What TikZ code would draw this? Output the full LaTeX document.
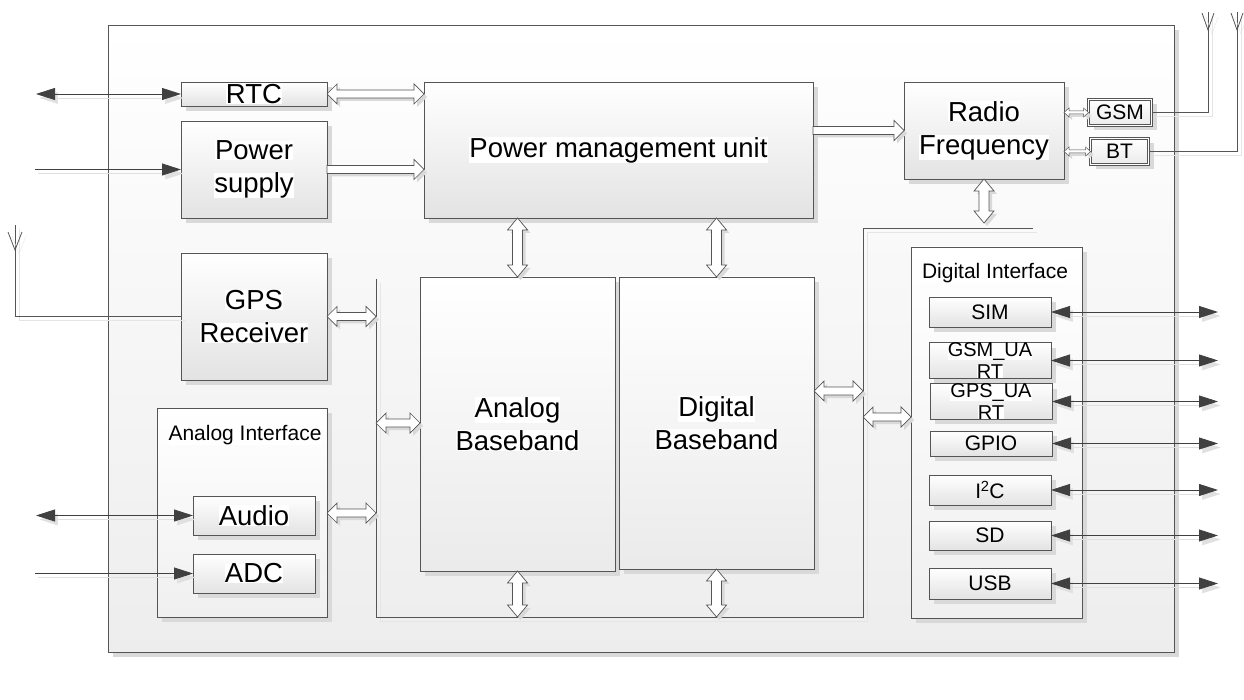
\documentclass[tikz,border=0pt]{standalone}
\usepackage{fontspec}
\setmainfont{Liberation Sans}
\usetikzlibrary{arrows.meta,shadows,calc}
\definecolor{bord}{RGB}{85,85,85}
\definecolor{tipc}{RGB}{64,64,64}
\newcommand\wb[1]{{\setlength{\fboxsep}{0pt}\colorbox{white}{#1}}}
\begin{document}
\begin{tikzpicture}[x=1pt,y=-1pt,
  >={Triangle[length=19pt,width=12pt]},
  every node/.style={inner sep=0pt,outer sep=0pt},
  big/.style={font=\fontsize{27.5}{33}\selectfont,align=center},
  small/.style={font=\fontsize{21}{23}\selectfont,align=center},
  uart/.style={font=\fontsize{20}{22}\selectfont,align=center},
  shad/.style={drop shadow={shadow xshift=5pt,shadow yshift=-5pt,fill=black!15,opacity=1}},
  box/.style={draw=bord,line width=0.8pt,top color=white,bottom color=black!11,shad},
  lbox/.style={draw=bord,line width=0.8pt,top color=white,bottom color=black!6,shad},
  dbox/.style={draw=bord,line width=0.6pt,double=white,double distance=1.8pt,top color=white,bottom color=black!8,shad},
  hol/.style={draw=bord,fill=white,line width=0.7pt,preaction={fill=black!15,transform canvas={shift={(3pt,-3pt)}}}},
  dblH/.style n args={3}{to path={let \p1=(\tikztostart), \p2=(\tikztotarget) in
    (\x1,\y1) -- (\x1+#1,\y1+#2) -- (\x1+#1,\y1+#3) -- (\x2-#1,\y1+#3) -- (\x2-#1,\y1+#2) -- (\x2,\y1)
    -- (\x2-#1,\y1-#2) -- (\x2-#1,\y1-#3) -- (\x1+#1,\y1-#3) -- (\x1+#1,\y1-#2) -- cycle}},
  sglH/.style n args={3}{to path={let \p1=(\tikztostart), \p2=(\tikztotarget) in
    (\x1,\y1+#3) -- (\x2-#1,\y1+#3) -- (\x2-#1,\y1+#2) -- (\x2,\y1)
    -- (\x2-#1,\y1-#2) -- (\x2-#1,\y1-#3) -- (\x1,\y1-#3) -- cycle}},
  dblV/.style n args={3}{to path={let \p1=(\tikztostart), \p2=(\tikztotarget) in
    (\x1,\y1) -- (\x1+#2,\y1+#1) -- (\x1+#3,\y1+#1) -- (\x1+#3,\y2-#1) -- (\x1+#2,\y2-#1) -- (\x1,\y2)
    -- (\x1-#2,\y2-#1) -- (\x1-#3,\y2-#1) -- (\x1-#3,\y1+#1) -- (\x1-#2,\y1+#1) -- cycle}},
  bigH/.style={dblH={10pt}{10pt}{4pt}},
  oneH/.style={sglH={10pt}{10pt}{4pt}},
  bigV/.style={dblV={12pt}{10pt}{5pt}},
  tinyH/.style={dblH={5pt}{4.5pt}{1.5pt}},
  ext/.style={draw=tipc,line width=0.8pt,preaction={draw=black!12,transform canvas={shift={(3pt,-4pt)}}}},
  wire/.style={draw=bord,line width=0.8pt,preaction={draw=black!10,transform canvas={shift={(4pt,-4pt)}}}}
]
\useasboundingbox (0,0) rectangle (1244,700);

% outer chip box
\node[box,bottom color=black!7,minimum width=1066pt,minimum height=627pt] (outer) at (641,338.5) {};

% bus
\coordinate (busTL) at (376,279);
\coordinate (busBL) at (376,617);
\coordinate (busBR) at (863,617);
\coordinate (busTR) at (863,228);
\coordinate (busTE) at (1033,228);
\draw[wire] (busTL) -- (busBL) -- (busBR) -- (busTR) -- (busTE);

% interface frames
\node[lbox,minimum width=170pt,minimum height=209pt] (ai) at (242,512.5) {};
\node[lbox,minimum width=171pt,minimum height=371pt] (di) at (996.5,432.5) {};
\node[small] (aiT) at (245,435) {\wb{Analog Interface}};
\node[small] (diT) at (995,273) {\wb{Digital Interface}};

% main blocks
\node[box,big,minimum width=146pt,minimum height=24pt] (rtc) at (254,94) {\wb{RTC}};
\node[box,big,minimum width=146pt,minimum height=97pt] (ps) at (254,169.5) {\wb{Power}\\\wb{supply}};
\node[box,big,minimum width=389pt,minimum height=136pt] (pmu) at (618.5,150) {\wb{Power management unit}};
\node[box,big,minimum width=160pt,minimum height=97pt] (rf) at (984,130.5) {\wb{Radio}\\\wb{Frequency}};
\node[dbox,small,minimum width=63pt,minimum height=26pt] (gsm) at (1120,112.5) {GSM};
\node[dbox,small,minimum width=58pt,minimum height=26pt] (bt) at (1119.5,151.5) {BT};
\node[box,big,minimum width=146pt,minimum height=127pt] (gps) at (254,316.5) {\wb{GPS}\\\wb{Receiver}};
\node[box,big,bottom color=black!8,minimum width=195pt,minimum height=294pt] (ab) at (517.5,424) {\wb{Analog}\\\wb{Baseband}};
\node[box,big,bottom color=black!8,minimum width=195pt,minimum height=292pt] (db) at (716.5,423) {\wb{Digital}\\\wb{Baseband}};
\node[box,big,minimum width=122pt,minimum height=39pt] (audio) at (254,515.5) {\wb{Audio}};
\node[box,big,minimum width=122pt,minimum height=39pt] (adc) at (254,573.5) {\wb{ADC}};

% digital interface items
\node[box,small,minimum width=122pt,minimum height=30pt] (sim) at (990,312) {SIM};
\node[box,uart,minimum width=122pt,minimum height=29pt] (gsmu) at (990,360.5) {\wb{GSM\_UA}\\\wb{RT}};
\node[box,uart,minimum width=122pt,minimum height=29pt] (gpsu) at (991,401.5) {\wb{GPS\_UA}\\\wb{RT}};
\node[box,small,minimum width=122pt,minimum height=25pt] (gpio) at (991,443.5) {GPIO};
\node[box,small,minimum width=122pt,minimum height=30pt] (i2c) at (990,490) {I\kern-0.5pt\textsuperscript{2}C};
\node[box,small,minimum width=122pt,minimum height=29pt] (sd) at (990,535.5) {SD};
\node[box,small,minimum width=122pt,minimum height=31pt] (usb) at (990,583.5) {USB};

% bus tap points
\coordinate (busG) at (376,317);
\coordinate (busA) at (376,423);
\coordinate (busAu) at (376,513);
\coordinate (busD) at (863,391);
\coordinate (busE) at (863,417);
\coordinate (busAB) at (517.5,617);
\coordinate (busDB) at (716.5,617);
\coordinate (rfB) at (984,223);

% hollow arrows
\draw[hol] (rtc.east) to[bigH] (pmu.west);
\draw[hol] (ps.east) to[oneH] (pmu.west);
\draw[hol] (pmu.east |- rf.west) to[oneH] (rf.west);
\draw[hol,line width=0.5pt] (rf.east |- gsm.west) to[tinyH] (gsm.west);
\draw[hol,line width=0.5pt] (rf.east |- bt.west) to[tinyH] (bt.west);
\draw[hol] (rfB) to[bigV] (rf.south);
\draw[hol] (gps.east) to[bigH] (busG);
\draw[hol] (busA) to[bigH] (ab.west);
\draw[hol] (ai.east |- busAu) to[bigH] (busAu);
\draw[hol] (ab.north) to[bigV] (pmu.south);
\draw[hol] (db.north) to[bigV] (pmu.south);
\draw[hol] (busAB) to[bigV] (ab.south);
\draw[hol] (busDB) to[bigV] (db.south);
\draw[hol] (db.east |- busD) to[bigH] (busD);
\draw[hol] (busE) to[bigH] (di.west);

% external signals, left
\coordinate (rtcL) at (36,94);
\coordinate (psL) at (35,169.5);
\coordinate (audL) at (36,515.5);
\coordinate (adcL) at (35,573.5);
\draw[ext,<->] (rtcL) -- (rtc.west);
\draw[ext,->] (psL) -- (ps.west);
\draw[ext,<->] (audL) -- (audio.west);
\draw[ext,->] (adcL) -- (adc.west);

% external signals, right
\coordinate (xR) at (1218,0);
\foreach \n in {sim,gsmu,gpsu,gpio,i2c,sd,usb}
  \draw[ext,<->] (\n.east) -- (\n.east -| xR);

% antennas
\coordinate (antP) at (15,225);
\coordinate (antG) at (1208,12);
\coordinate (antB) at (1237,12);
\draw[wire] (gps.west) -| (antP);
\draw[wire] (gsm.east) -| (antG);
\draw[wire] (bt.east) -| (antB);
\draw[wire] ($(antP)+(-7,7)$) -- ($(antP)+(0,25)$) -- ($(antP)+(7,7)$);
\draw[wire] ($(antG)+(-6,1)$) -- ($(antG)+(0,18)$) -- ($(antG)+(6,1)$);
\draw[wire] ($(antB)+(-6,1)$) -- ($(antB)+(0,18)$) -- ($(antB)+(6,1)$);
\end{tikzpicture}
\end{document}
